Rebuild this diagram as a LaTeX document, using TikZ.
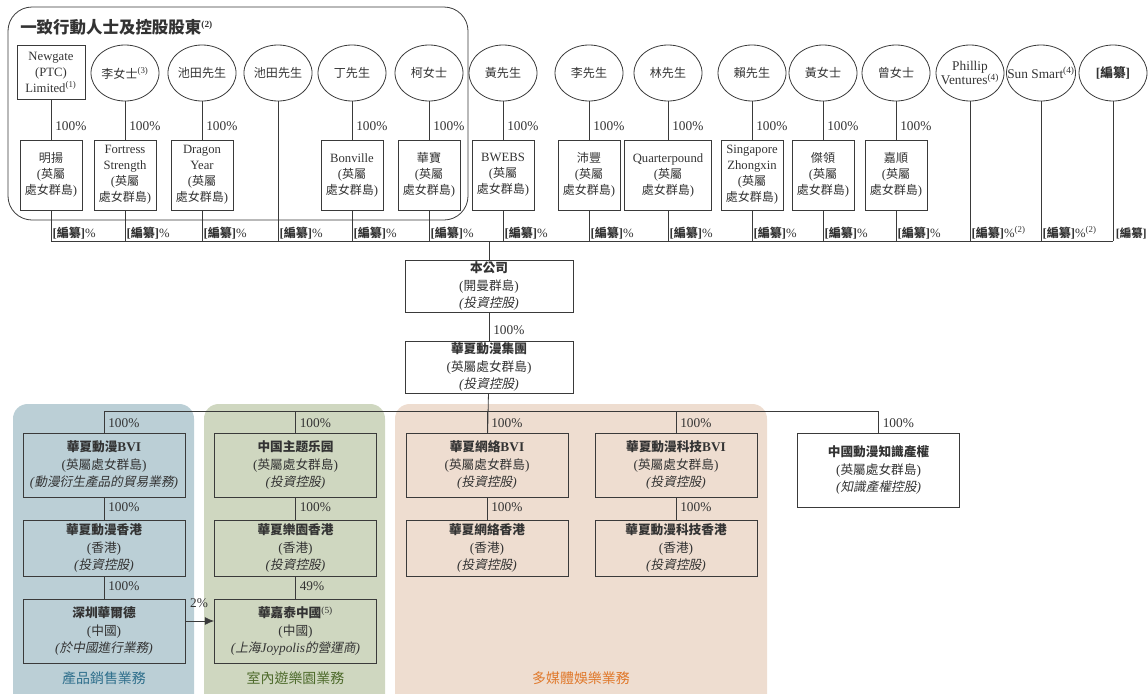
\documentclass[tikz,border=0pt]{standalone}
\usepackage{fontspec}
\setmainfont{Liberation Serif}
\newfontfamily\zhfont{Noto Sans CJK TC}[Scale=0.95,ItalicFont={Noto Sans CJK TC},ItalicFeatures={FakeSlant=0.2}]
% switch to the CJK font for Han characters and full-width forms
\XeTeXinterchartokenstate=1
\newXeTeXintercharclass\zhclass
\newcount\zhcnt
\zhcnt="4E00
\loop
  \XeTeXcharclass\zhcnt=\zhclass
  \advance\zhcnt by 1
\ifnum\zhcnt<"A000 \repeat
\zhcnt="3000
\loop
  \XeTeXcharclass\zhcnt=\zhclass
  \advance\zhcnt by 1
\ifnum\zhcnt<"3040 \repeat
\zhcnt="FF00
\loop
  \XeTeXcharclass\zhcnt=\zhclass
  \advance\zhcnt by 1
\ifnum\zhcnt<"FFF0 \repeat
\XeTeXinterchartoks 0 \zhclass={\begingroup\zhfont}
\XeTeXinterchartoks 4095 \zhclass={\begingroup\zhfont}
\XeTeXinterchartoks \zhclass 0={\endgroup}
\XeTeXinterchartoks \zhclass 4095={\endgroup}
\usepackage{tikz}
\usetikzlibrary{shapes.geometric, arrows.meta}
\definecolor{linec}{HTML}{3A3A3A}
\definecolor{txt}{HTML}{333333}
\definecolor{prodbg}{HTML}{BBCFD6}
\definecolor{parkbg}{HTML}{CFD7C0}
\definecolor{mediabg}{HTML}{EEDDD0}
\definecolor{prodtx}{HTML}{2F6F8C}
\definecolor{parktx}{HTML}{4E6B2C}
\definecolor{mediatx}{HTML}{E0782A}
\tikzset{
  holder/.style={ellipse, draw=linec, line width=0.6pt, inner sep=0pt, minimum width=51pt, minimum height=42pt, align=center, text=txt, font=\fontsize{9.5}{11}\selectfont},
  vehicle/.style={rectangle, draw=linec, line width=0.6pt, inner sep=1pt, minimum width=46.5pt, minimum height=52.5pt, align=center, text=txt, font=\fontsize{9.5}{12}\selectfont},
  coy/.style={rectangle, draw=linec, line width=0.6pt, inner sep=0.5pt, minimum width=121.5pt, align=center, text=txt, font=\fontsize{10}{13}\selectfont},
  pct/.style={anchor=west, inner sep=0pt, text=txt, font=\fontsize{10}{12}\selectfont},
  barpct/.style={pct, font=\fontsize{9.5}{12}\selectfont},
  link/.style={draw=linec, line width=0.6pt},
  area/.style={rounded corners=11pt},
  areatitle/.style={inner sep=0pt, font=\fontsize{11}{13}\selectfont},
}
\begin{document}
\begin{tikzpicture}[x=0.75pt, y=-0.75pt]
\useasboundingbox (0,0) rectangle (1148,693);

% business areas
\fill[prodbg, area] (13,404) rectangle (194,715);
\fill[parkbg, area] (204,404) rectangle (385,715);
\fill[mediabg, area] (395,404) rectangle (767,715);

% concert party
\draw[link, rounded corners=18pt] (8,7) rectangle (468,220);
\node[anchor=west, inner sep=0pt, text=txt, font=\fontsize{13}{14}\selectfont\bfseries] (partytitle) at (20,27) {一致行動人士及控股股東\textsuperscript{\scriptsize(2)}};

% holders
\node[vehicle, minimum width=51pt, minimum height=41pt] (newgate) at (51,72.5) {Newgate\\(PTC)\\Limited\textsuperscript{(1)}};
\node[holder] (msli) at (125,73) {李女士\textsuperscript{(3)}};
\node[holder] (ikeda) at (202,73) {池田先生};
\node[holder] (ikedab) at (278,73) {池田先生};
\node[holder] (ding) at (352,73) {丁先生};
\node[holder] (ke) at (429,73) {柯女士};
\node[holder] (mrhuang) at (503,73) {黃先生};
\node[holder] (mrli) at (589,73) {李先生};
\node[holder] (lin) at (668,73) {林先生};
\node[holder] (lai) at (752,73) {賴先生};
\node[holder] (mshuang) at (823,73) {黃女士};
\node[holder] (tsang) at (896,73) {曾女士};
\node[holder, inner xsep=-5pt, font=\fontsize{10}{11}\selectfont] (phillip) at (970,73) {Phillip\\Ventures\textsuperscript{(4)}};
\node[holder, inner xsep=-7pt, font=\fontsize{10}{11}\selectfont] (sunsmart) at (1041,73) {Sun Smart\textsuperscript{(4)}};
\node[holder, font=\fontsize{10}{11}\selectfont\bfseries] (tbc) at (1113,73) {[編纂]};

% holding vehicles
\node[vehicle] (mingyang) at (51,175) {明揚\\(英屬\\處女群島)};
\node[vehicle] (fortress) at (125,175) {Fortress\\Strength\\(英屬\\處女群島)};
\node[vehicle] (dragon) at (202,175) {Dragon\\Year\\(英屬\\處女群島)};
\node[vehicle] (bonville) at (352,175) {Bonville\\(英屬\\處女群島)};
\node[vehicle] (huabao) at (429,175) {華寶\\(英屬\\處女群島)};
\node[vehicle] (bwebs) at (503,175) {BWEBS\\(英屬\\處女群島)};
\node[vehicle] (peifeng) at (589,175) {沛豐\\(英屬\\處女群島)};
\node[vehicle, minimum width=65pt] (quarter) at (668,175) {Quarterpound\\(英屬\\處女群島)};
\node[vehicle] (szx) at (752,175) {Singapore\\Zhongxin\\(英屬\\處女群島)};
\node[vehicle] (jieling) at (823,175) {傑領\\(英屬\\處女群島)};
\node[vehicle] (jiashun) at (896,175) {嘉順\\(英屬\\處女群島)};

\coordinate (hold) at (0,126);
\coordinate (bar) at (0,241);
\coordinate (barlbl) at (0,233);

\foreach \h/\v in {newgate/mingyang, msli/fortress, ikeda/dragon, ding/bonville, ke/huabao, mrhuang/bwebs, mrli/peifeng, lin/quarter, lai/szx, mshuang/jieling, tsang/jiashun}{
  \draw[link] (\h) -- (\v);
  \node[pct] (p-\v) at ([xshift=3pt]\v.north |- hold) {100\%};
}

% to the bar
\foreach \v in {mingyang, fortress, dragon, ikedab, bonville, huabao, bwebs, peifeng, quarter, szx, jieling, jiashun}{
  \draw[link] (\v.south) -- (\v.south |- bar);
  \node[barpct] (q-\v) at ([xshift=1pt]\v.south |- barlbl) {{\bfseries[編纂]}\%};
}
\draw[link] (phillip.south) -- (phillip.south |- bar);
\node[barpct] (q-phillip) at ([xshift=1pt]phillip.south |- barlbl) {{\bfseries[編纂]}\%\textsuperscript{(2)}};
\draw[link] (sunsmart.south) -- (sunsmart.south |- bar);
\node[barpct] (q-sunsmart) at ([xshift=1pt]sunsmart.south |- barlbl) {{\bfseries[編纂]}\%\textsuperscript{(2)}};
\draw[link] (tbc.south) -- (tbc.south |- bar);
\node[barpct, font=\fontsize{9}{12}\selectfont] (q-tbc) at ([xshift=2pt]tbc.south |- barlbl) {{\bfseries[編纂]}};
\draw[link] (mingyang.south |- bar) -- (tbc.south |- bar);

% the company
\node[coy, minimum width=126pt, minimum height=39pt] (company) at (489,286) {{\bfseries 本公司}\\(開曼群島)\\{\itshape(投資控股)}};
\node[coy, minimum width=126pt, minimum height=39pt] (group) at (489,367) {{\bfseries 華夏動漫集團}\\(英屬處女群島)\\{\itshape(投資控股)}};
\draw[link] (company.north |- bar) -- (company);
\draw[link] (company) -- (group);
\node[pct] (p-group) at (493,330) {100\%};

% subsidiaries
\node[coy, minimum height=48pt] (prodbvi) at (104,465) {{\bfseries 華夏動漫BVI}\\(英屬處女群島)\\{\itshape(動漫衍生產品的貿易業務)}};
\node[coy, minimum height=42pt] (prodhk) at (104,548) {{\bfseries 華夏動漫香港}\\(香港)\\{\itshape(投資控股)}};
\node[coy, minimum height=48pt] (szhed) at (104,631) {{\bfseries 深圳華爾德}\\(中國)\\{\itshape(於中國進行業務)}};
\node[coy, minimum height=48pt] (parkbvi) at (295.5,465) {{\bfseries 中国主题乐园}\\(英屬處女群島)\\{\itshape(投資控股)}};
\node[coy, minimum height=42pt] (parkhk) at (295.5,548) {{\bfseries 華夏樂園香港}\\(香港)\\{\itshape(投資控股)}};
\node[coy, minimum height=48pt] (wjt) at (295.5,631) {{\bfseries 華嘉泰中國}\textsuperscript{(5)}\\(中國)\\{\itshape(上海Joypolis的營運商)}};
\node[coy, minimum height=48pt] (netbvi) at (487,465) {{\bfseries 華夏網絡BVI}\\(英屬處女群島)\\{\itshape(投資控股)}};
\node[coy, minimum height=42pt] (nethk) at (487,548) {{\bfseries 華夏網絡香港}\\(香港)\\{\itshape(投資控股)}};
\node[coy, minimum height=48pt] (techbvi) at (676,465) {{\bfseries 華夏動漫科技BVI}\\(英屬處女群島)\\{\itshape(投資控股)}};
\node[coy, minimum height=42pt] (techhk) at (676,548) {{\bfseries 華夏動漫科技香港}\\(香港)\\{\itshape(投資控股)}};
\node[coy, minimum height=55.5pt] (ipbox) at (878.5,470) {{\bfseries 中國動漫知識產權}\\(英屬處女群島)\\{\itshape(知識產權控股)}};

\coordinate (sub) at (0,411);
\coordinate (sublbl) at (0,423);
\draw[link] (group) -- (netbvi);
\draw[link] (prodbvi.north |- sub) -- (ipbox.north |- sub);
\foreach \v in {prodbvi, parkbvi, netbvi, techbvi, ipbox}{
  \draw[link] (\v.north |- sub) -- (\v);
  \node[pct] (p-\v) at ([xshift=3pt]\v.north |- sublbl) {100\%};
}
\foreach \a/\b in {prodbvi/prodhk, prodhk/szhed, parkbvi/parkhk, netbvi/nethk, techbvi/techhk}{
  \draw[link] (\a) -- (\b);
  \node[pct] (p-\b) at ([xshift=3pt]\b.north) [yshift=9pt] {100\%};
}
\draw[link] (parkhk) -- (wjt);
\node[pct] (p-wjt) at ([xshift=3pt]wjt.north) [yshift=9pt] {49\%};
\draw[link, -{Latex[length=7pt, width=6pt]}] ([yshift=7.5pt]szhed.east) -- ([yshift=7.5pt]wjt.west);
\node[pct, anchor=center] (p-two) at (199,603) {2\%};

% area titles
\node[areatitle, text=prodtx] (prodtitle) at (104,678) {產品銷售業務};
\node[areatitle, text=parktx] (parktitle) at (295.5,678) {室內遊樂園業務};
\node[areatitle, text=mediatx] (mediatitle) at (581,678) {多媒體娛樂業務};
\end{tikzpicture}
\end{document}
